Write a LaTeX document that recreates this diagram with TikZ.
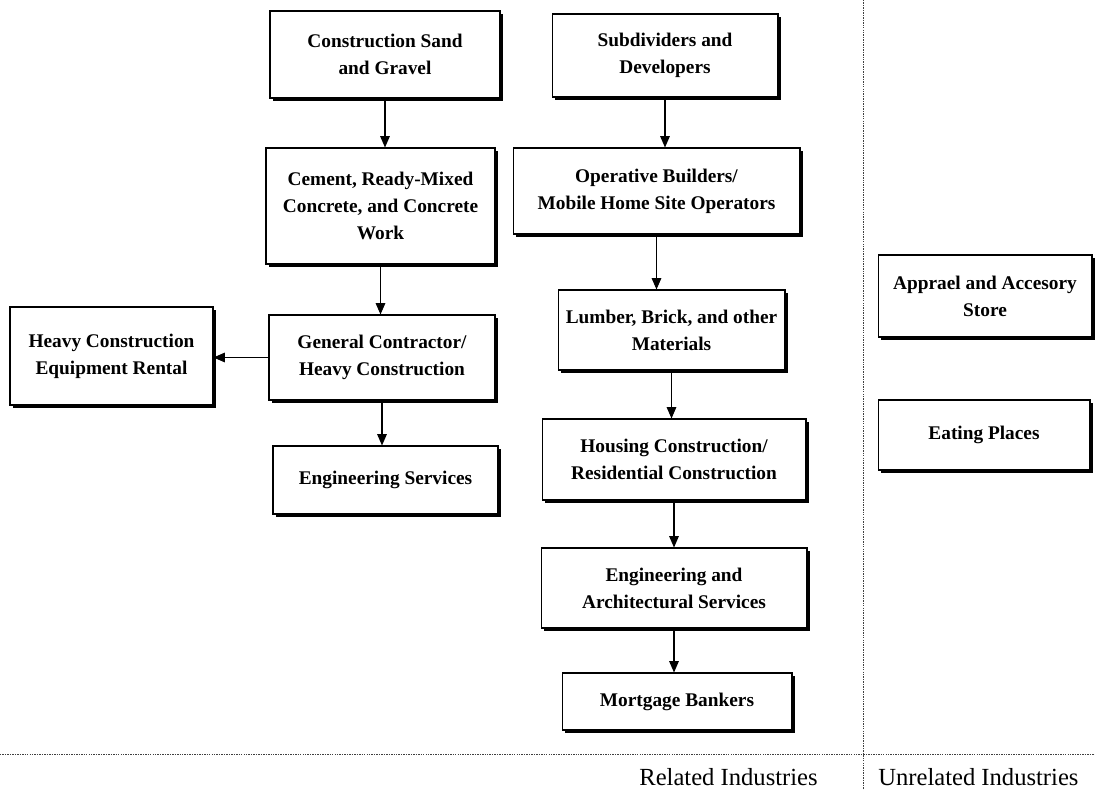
\documentclass[tikz,border=0pt]{standalone}
\usepackage{fontspec}
\setmainfont{Liberation Serif}
\usetikzlibrary{arrows.meta,shadows}

\begin{document}
\begin{tikzpicture}[x=0.02cm, y=-0.02cm,
    box/.style={draw, fill=white, line width=0.6pt, align=center, inner sep=2pt,
        font=\fontsize{11}{15.4}\selectfont\bfseries,
        drop shadow={shadow xshift=1.6pt, shadow yshift=-1.6pt, fill=black, opacity=1}},
    link/.style={-{Triangle[length=6.5pt, width=5.5pt]}, line width=0.6pt},
    divider/.style={line width=0.5pt, dash pattern=on 0.8pt off 0.6pt, black!75},
    footer/.style={font=\fontsize{14}{17}\selectfont, inner sep=0pt}]

    % Page frame
    \useasboundingbox (0,0) rectangle (1095,790);

    % Dividers
    \coordinate (DivTop) at (863,0);
    \coordinate (DivBot) at (863,790);
    \coordinate (BaseL) at (0,754);
    \coordinate (BaseR) at (1095,754);
    \draw[divider] (DivTop) -- (DivBot);
    \draw[divider] (BaseL) -- (BaseR);

    % Left chain
    \node[box, minimum width=4.6cm, minimum height=1.74cm] (sand) at (385,54.5) {Construction Sand\\and Gravel};
    \node[box, minimum width=4.58cm, minimum height=2.32cm] (cement) at (380.5,206) {Cement, Ready-Mixed\\Concrete, and Concrete\\Work};
    \node[box, minimum width=4.52cm, minimum height=1.7cm] (gencon) at (382,357.5) {General Contractor/\\Heavy Construction};
    \node[box, minimum width=4.06cm, minimum height=1.96cm] (heavy) at (111.5,356) {Heavy Construction\\Equipment Rental};
    \node[box, minimum width=4.5cm, minimum height=1.36cm] (engserv) at (385.5,480) {Engineering Services};

    % Middle chain
    \node[box, minimum width=4.52cm, minimum height=1.66cm] (subdiv) at (665,55.5) {Subdividers and\\Developers};
    \node[box, minimum width=5.74cm, minimum height=1.72cm] (oper) at (656.5,191) {Operative Builders/\\Mobile Home Site Operators};
    \node[box, minimum width=4.54cm, minimum height=1.6cm] (lumber) at (671.5,330) {Lumber, Brick, and other\\Materials};
    \node[box, minimum width=5.28cm, minimum height=1.62cm] (housing) at (674,459.5) {Housing Construction/\\Residential Construction};
    \node[box, minimum width=5.32cm, minimum height=1.6cm] (engarch) at (674,588) {Engineering and\\Architectural Services};
    \node[box, minimum width=4.6cm, minimum height=1.14cm] (mortgage) at (677,701.5) {Mortgage Bankers};

    % Unrelated
    \node[box, minimum width=4.28cm, minimum height=1.64cm] (apparel) at (985,296) {Apprael and Accesory\\Store};
    \node[box, minimum width=4.24cm, minimum height=1.4cm] (eating) at (984,435) {Eating Places};

    % Links
    \draw[link] (sand) -- (sand |- cement.north);
    \draw[link] (cement) -- (cement |- gencon.north);
    \draw[link] (gencon) -- (gencon |- engserv.north);
    \draw[link] (gencon) -- (gencon -| heavy.east);
    \draw[link] (subdiv) -- (subdiv |- oper.north);
    \draw[link] (oper) -- (oper |- lumber.north);
    \draw[link] (lumber) -- (lumber |- housing.north);
    \draw[link] (housing) -- (housing |- engarch.north);
    \draw[link] (engarch) -- (engarch |- mortgage.north);

    % Footer
    \node[footer, anchor=east] (related) at (818,777) {Related Industries};
    \node[footer, anchor=west] (unrelated) at (878,777) {Unrelated Industries};
\end{tikzpicture}
\end{document}
